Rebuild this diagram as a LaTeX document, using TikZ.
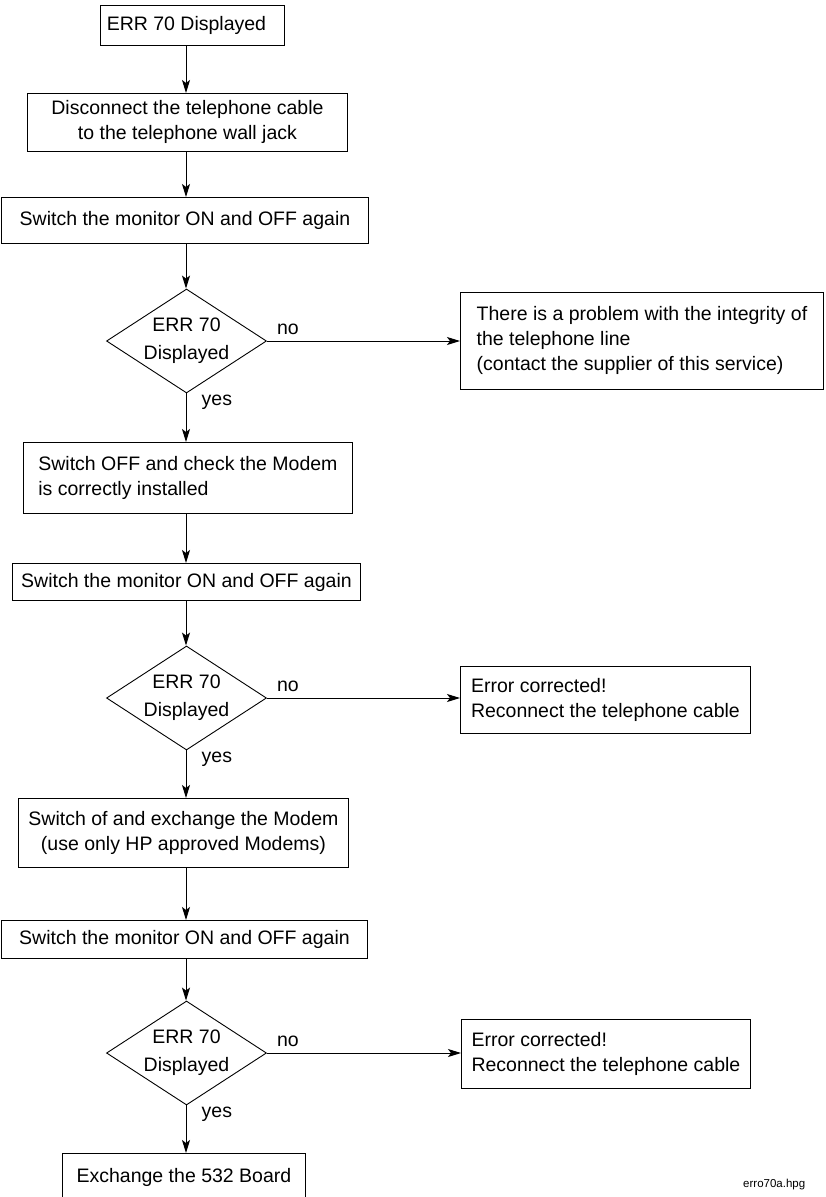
\documentclass[tikz,border=0pt]{standalone}
\usepackage{fontspec}
\setmainfont{Liberation Sans}
\usetikzlibrary{shapes.geometric,positioning,arrows.meta}
\newcommand{\hpfont}{\fontsize{19.5}{25}\selectfont}
\tikzset{
hpbox/.style={
  draw,
  rectangle,
  line width=0.9pt,
  anchor=north west,
  inner sep=0pt,
  font=\hpfont
  },
hpleft/.style={
  hpbox,
  align=left
  },
hpmid/.style={
  hpbox,
  align=center
  },
hplabel/.style={
  inner sep=0pt,
  font=\hpfont
  },
hpdiam/.style={
  draw,
  diamond,
  line width=0.9pt,
  inner sep=0pt,
  minimum width=160pt,
  minimum height=104pt,
  label={[hplabel,align=center]center:#1}
  }
}
\begin{document}
\begin{tikzpicture}[>={Stealth[length=13pt,width=8pt,inset=3pt]},x=1pt,y=-1pt]

\useasboundingbox (0,0) rectangle (825,1197);
\clip (0,0) rectangle (825,1197);

\coordinate (spine) at (186,0);

\node[hpmid,minimum width=184pt,minimum height=40pt] at (100,5) (b1) {ERR 70 Displayed\hspace*{12pt}};

\node[hpmid,minimum width=320pt,minimum height=58pt] at (27,93) (b2)
{Disconnect the telephone cable\\to the telephone wall jack};

\node[hpmid,minimum width=367pt,minimum height=46pt] at (1,197) (b3)
{Switch the monitor ON and OFF again};

\node[hpdiam={ERR 70\\[3pt]Displayed}] at (186.5,341) (d1) {};

\node[hpleft,minimum width=363pt,minimum height=97pt] at (460,292) (b4)
{There is a problem with the integrity of\\the telephone line\\(contact the supplier of this service)};

\node[hpleft,minimum width=329pt,minimum height=71pt] at (23,442) (b5)
{Switch OFF and check the Modem\\is correctly installed};

\node[hpmid,minimum width=348pt,minimum height=37pt] at (12,563) (b6)
{Switch the monitor ON and OFF again};

\node[hpdiam={ERR 70\\[3pt]Displayed}] at (186.5,698) (d2) {};

\node[hpleft,minimum width=290pt,minimum height=67pt] at (460,666) (b7)
{Error corrected!\\Reconnect the telephone cable};

\node[hpmid,minimum width=330pt,minimum height=69pt] at (18,798) (b8)
{Switch of and exchange the Modem\\(use only HP approved Modems)};

\node[hpmid,minimum width=366pt,minimum height=38pt] at (1,920) (b9)
{Switch the monitor ON and OFF again};

\node[hpdiam={ERR 70\\[3pt]Displayed}] at (186.5,1053) (d3) {};

\node[hpleft,minimum width=289pt,minimum height=69pt] at (461,1019) (b10)
{Error corrected!\\Reconnect the telephone cable};

\node[hpmid,minimum width=243pt,minimum height=48pt] at (62,1153) (b11)
{Exchange the 532 Board};

\node[hplabel,above right=6pt and 10pt of d1.east] (no1) {no};
\node[hplabel,above right=6pt and 10pt of d2.east] (no2) {no};
\node[hplabel,above right=6pt and 10pt of d3.east] (no3) {no};

\node[hplabel,below right=1pt and 15pt of d1.south] (yes1) {yes};
\node[hplabel,below right=1pt and 15pt of d2.south] (yes2) {yes};
\node[hplabel,below right=1pt and 15pt of d3.south] (yes3) {yes};

\node[inner sep=0pt,anchor=west,font=\fontsize{11.5}{14}\selectfont] at (743,1185) (fname) {erro70a.hpg};

\begin{scope}[line width=0.9pt]
\draw[->] (b1.south -| spine) -- (b2.north -| spine);
\draw[->] (b2.south -| spine) -- (b3.north -| spine);
\draw[->] (b3.south -| spine) -- (d1.north -| spine);
\draw[->] (d1.south -| spine) -- (b5.north -| spine);
\draw[->] (b5.south -| spine) -- (b6.north -| spine);
\draw[->] (b6.south -| spine) -- (d2.north -| spine);
\draw[->] (d2.south -| spine) -- (b8.north -| spine);
\draw[->] (b8.south -| spine) -- (b9.north -| spine);
\draw[->] (b9.south -| spine) -- (d3.north -| spine);
\draw[->] (d3.south -| spine) -- (b11.north -| spine);

\draw[->] (d1.east) -- (b4.west |- d1.east);
\draw[->] (d2.east) -- (b7.west |- d2.east);
\draw[->] (d3.east) -- (b10.west |- d3.east);
\end{scope}
\end{tikzpicture}
\end{document}
